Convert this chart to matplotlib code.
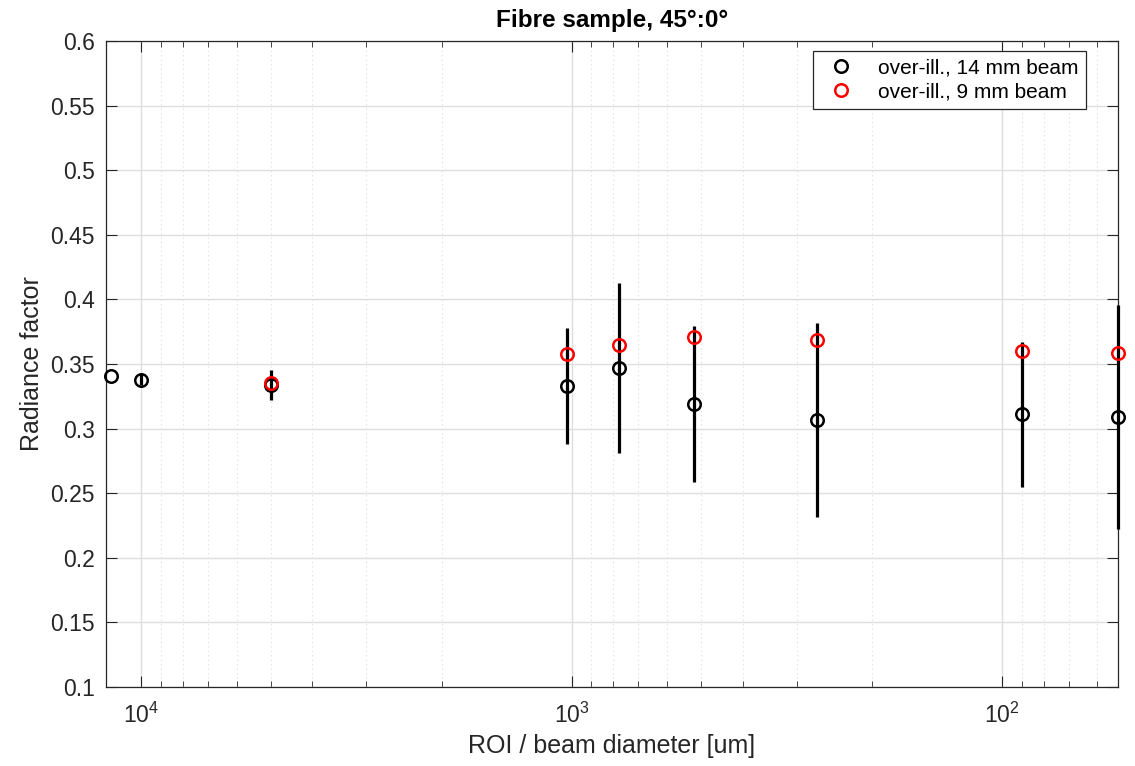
import matplotlib
matplotlib.use("Agg")
import matplotlib.pyplot as plt
from matplotlib.ticker import LogLocator, FixedLocator, FuncFormatter, NullFormatter
import numpy as np

plt.rcParams['font.family'] = ['Liberation Sans', 'DejaVu Sans']
plt.rcParams['mathtext.fontset'] = 'custom'
plt.rcParams['mathtext.rm'] = 'Liberation Sans'
plt.rcParams['mathtext.it'] = 'Liberation Sans'
plt.rcParams['mathtext.default'] = 'regular'

# Data
roi_14 = [11750, 10000, 5000, 1025, 774, 520, 269, 89.7, 53.6]
rf_14 = [0.341, 0.338, 0.334, 0.333, 0.347, 0.319, 0.3065, 0.311, 0.309]
err_14 = [0.0, 0.004, 0.0115, 0.045, 0.0655, 0.0605, 0.075, 0.056, 0.087]
roi_9 = [5000, 1025, 774, 520, 269, 89.7, 53.6]
rf_9 = [0.3355, 0.3577, 0.3647, 0.3711, 0.3686, 0.3603, 0.3588]

label_14 = "over-ill., 14 mm beam"
label_9 = "over-ill., 9 mm beam"
title = "Fibre sample, 45°:0°"
xlabel = "ROI / beam diameter [um]"
ylabel = "Radiance factor"
yticks = [0.1, 0.15, 0.2, 0.25, 0.3, 0.35, 0.4, 0.45, 0.5, 0.55, 0.6]

txt = '#262626'
W, H = 1135, 766
fig = plt.figure(figsize=(W / 100, H / 100), dpi=100)
ax = fig.add_axes([0.0931, 0.1031, 0.8917, 0.8434])

ax.errorbar(roi_14, rf_14, yerr=err_14, fmt='none', ecolor='black',
            elinewidth=2.3, capsize=0, zorder=3, clip_on=False)
ax.plot(roi_14, rf_14, linestyle='none', marker='o', markersize=9,
        markerfacecolor='none', markeredgecolor='black', markeredgewidth=1.8,
        label=label_14, zorder=4, clip_on=False)
ax.plot(roi_9, rf_9, linestyle='none', marker='o', markersize=9,
        markerfacecolor='none', markeredgecolor='#ff0000', markeredgewidth=1.8,
        label=label_9, zorder=5, clip_on=False)

ax.set_xscale('log')
ax.set_xlim(12095, 53.8)
ax.set_ylim(0.1, 0.6)
ax.yaxis.set_major_locator(FixedLocator(yticks))
ax.yaxis.set_major_formatter(FuncFormatter(lambda v, p: ('%g' % round(v, 2))))
ax.xaxis.set_major_locator(LogLocator(base=10, numticks=10))
ax.xaxis.set_minor_locator(LogLocator(base=10, subs=np.arange(2, 10), numticks=20))
ax.xaxis.set_minor_formatter(NullFormatter())

ax.grid(True, which='major', color='#dedede', linewidth=1.0, linestyle='-')
ax.grid(True, which='minor', axis='x', color='#dcdcdc', linewidth=0.8, linestyle=(0, (1, 3)))
ax.set_axisbelow(True)

ax.tick_params(which='both', direction='in', top=True, right=True, colors=txt,
               labelsize=16.5, pad=8)
ax.tick_params(which='major', length=8, width=0.8)
ax.tick_params(which='minor', length=4.5, width=0.6)
ax.tick_params(axis='x', which='major', pad=11)
for s in ax.spines.values():
    s.set_color(txt)
    s.set_linewidth(0.9)

ax.set_title(title, fontsize=17.5, fontweight='bold', color='black', pad=10)
ax.set_xlabel(xlabel, fontsize=18, color=txt, labelpad=5)
ax.set_ylabel(ylabel, fontsize=18, color=txt, labelpad=4)

leg = ax.legend(loc='upper right', fontsize=15, frameon=True, fancybox=False,
                edgecolor=txt, framealpha=1,
                bbox_to_anchor=(1086 / W, 1 - 51 / H), bbox_transform=fig.transFigure,
                borderaxespad=0, handlelength=2.0, handletextpad=0.8,
                labelspacing=0.25, borderpad=0.35)
leg.get_frame().set_linewidth(0.9)

fig.savefig('out.png', dpi=100)
